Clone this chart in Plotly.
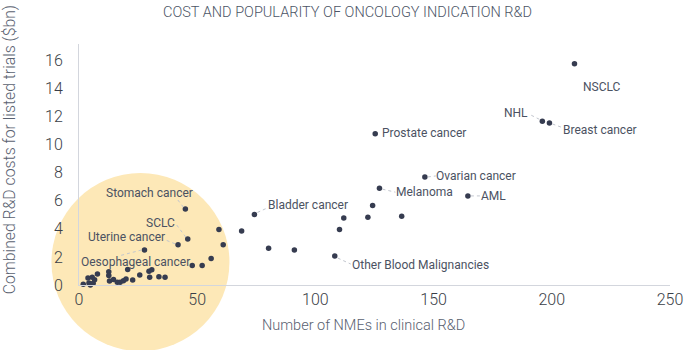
import plotly.graph_objects as go

# Number of NMEs in clinical R&D per oncology indication
nmes = [
    209.6, 196.0, 199.0, 125.3, 146.3, 127.1, 164.5, 74.2, 108.2,
    45.0, 46.0, 41.9, 27.7,
    68.8, 80.2, 91.1, 110.2, 112.0, 122.2, 124.2, 136.5,
    59.2, 61.0, 55.9, 47.9, 52.1,
    1.8, 3.8, 4.2, 4.8, 5.6, 6.0, 6.6, 7.8,
    12.6, 12.6, 12.9, 14.6, 16.2, 17.4, 18.8, 19.9, 20.6, 22.7,
    25.7, 29.6, 30.8, 29.9, 33.8, 36.4,
]
# Combined R&D costs for listed trials ($bn)
costs = [
    15.75, 11.65, 11.53, 10.77, 7.69, 6.89, 6.34, 5.02, 2.06,
    5.40, 3.27, 2.86, 2.49,
    3.84, 2.61, 2.49, 3.95, 4.76, 4.83, 5.66, 4.90,
    3.95, 2.87, 1.88, 1.38, 1.38,
    0.05, 0.50, 0.15, 0.00, 0.55, 0.12, 0.38, 0.78,
    0.95, 0.68, 0.28, 0.40, 0.20, 0.20, 0.30, 0.43, 1.10, 0.35,
    0.71, 0.97, 1.08, 0.55, 0.59, 0.55,
]
# Indication names (blank where the point is unlabelled)
indications = [
    "NSCLC", "NHL", "Breast cancer", "Prostate cancer", "Ovarian cancer",
    "Melanoma", "AML", "Bladder cancer", "Other Blood Malignancies",
    "Stomach cancer", "SCLC", "Uterine cancer", "Oesophageal cancer",
] + [""] * 37

# Label placement per indication: text offset (px) and leader line (px), or None
label_style = {
    "NSCLC": dict(dx=28, dy=-23, lead=None),
    "NHL": dict(dx=-26, dy=8, lead=(-3, 2, -13, 7)),
    "Breast cancer": dict(dx=51, dy=-7, lead=(3, -1, 14, -5)),
    "Prostate cancer": dict(dx=49, dy=1, lead=None),
    "Ovarian cancer": dict(dx=51, dy=1, lead=(3, 0, 11, 1)),
    "Melanoma": dict(dx=45, dy=-4, lead=(3, -1, 16, -4)),
    "AML": dict(dx=26, dy=0, lead=(3, 0, 13, 0)),
    "Bladder cancer": dict(dx=54, dy=9, lead=(3, 2, 14, 7)),
    "Other Blood Malignancies": dict(dx=86, dy=-9, lead=(3, -2, 16, -8)),
    "Stomach cancer": dict(dx=-36, dy=16, lead=(-2, 2, -9, 11)),
    "SCLC": dict(dx=-27, dy=16, lead=(-2, 2, -11, 14)),
    "Uterine cancer": dict(dx=-52, dy=8, lead=(-3, 1, -13, 5)),
    "Oesophageal cancer": dict(dx=-9, dy=-12, lead=(-3, 0, -26, -6)),
}

# Highlight disc around the low-cost, low-activity cluster
HIGHLIGHT_X, HIGHLIGHT_Y, HIGHLIGHT_PX = 26.0, 1.63, 178

FONT = "Roboto"
LIGHT = 300
LABEL_COLOR = "#4b5262"
DOT_COLOR = "#363c50"
AXIS_COLOR = "#d3d6dd"

fig = go.Figure()

fig.add_trace(go.Scatter(
    x=[HIGHLIGHT_X], y=[HIGHLIGHT_Y], mode="markers",
    marker=dict(size=HIGHLIGHT_PX, color="#fde8b7", line=dict(width=0)),
    cliponaxis=False, hoverinfo="skip", showlegend=False,
))

fig.add_trace(go.Scatter(
    x=nmes, y=costs, mode="markers", text=indications,
    marker=dict(size=5.5, color=DOT_COLOR, line=dict(width=0)),
    cliponaxis=False, showlegend=False,
    hovertemplate="%{text}<br>NMEs: %{x}<br>Cost: $%{y}bn<extra></extra>",
))

annotations = []
shapes = []
for x, y, name in zip(nmes, costs, indications):
    if not name:
        continue
    st = label_style[name]
    annotations.append(dict(
        x=x, y=y, xref="x", yref="y", text=name, showarrow=False,
        xshift=st["dx"], yshift=st["dy"],
        font=dict(family=FONT, size=12, color=LABEL_COLOR),
    ))
    if st["lead"]:
        x0, y0, x1, y1 = st["lead"]
        shapes.append(dict(
            type="line", xref="x", yref="y",
            xsizemode="pixel", ysizemode="pixel", xanchor=x, yanchor=y,
            x0=x0, y0=y0, x1=x1, y1=y1,
            line=dict(color="#c2c6ce", width=1, dash="dot"),
        ))

# Axis titles
annotations.append(dict(
    text="Number of NMEs in clinical R&D", xref="paper", yref="paper",
    x=0.482, y=-0.17, showarrow=False, xanchor="center", yanchor="middle",
    font=dict(family=FONT, size=14.5, color="#596170", weight=LIGHT),
))
annotations.append(dict(
    text="Combined R&D costs for listed trials ($bn)", xref="paper", yref="paper",
    x=-0.118, y=0.56, showarrow=False, textangle=-90,
    xanchor="center", yanchor="middle",
    font=dict(family=FONT, size=15.8, color="#596170", weight=LIGHT),
))

fig.update_layout(
    width=695, height=350,
    margin=dict(l=78.5, r=14, t=44, b=65),
    paper_bgcolor="white", plot_bgcolor="white",
    title=dict(
        text="COST AND POPULARITY OF ONCOLOGY INDICATION R&D",
        x=0.5, xanchor="center", y=0.965, yanchor="middle",
        font=dict(family=FONT, size=14.5, color="#4c5566", weight=LIGHT),
    ),
    annotations=annotations,
    shapes=shapes,
    font=dict(family=FONT),
)
fig.update_xaxes(
    range=[0, 250], tickvals=[0, 50, 100, 150, 200, 250],
    showgrid=False, zeroline=False, showline=True, linecolor=AXIS_COLOR,
    linewidth=1, ticks="",
    tickfont=dict(family=FONT, size=16, color="#3a3e47", weight=LIGHT),
)
fig.update_yaxes(
    range=[0, 17.15], tickvals=[0, 2, 4, 6, 8, 10, 12, 14, 16],
    showgrid=False, zeroline=False, showline=True, linecolor=AXIS_COLOR,
    linewidth=1, ticks="", ticklabelstandoff=12,
    tickfont=dict(family=FONT, size=16, color="#3a3e47", weight=LIGHT),
)

fig.write_html("out.html")
